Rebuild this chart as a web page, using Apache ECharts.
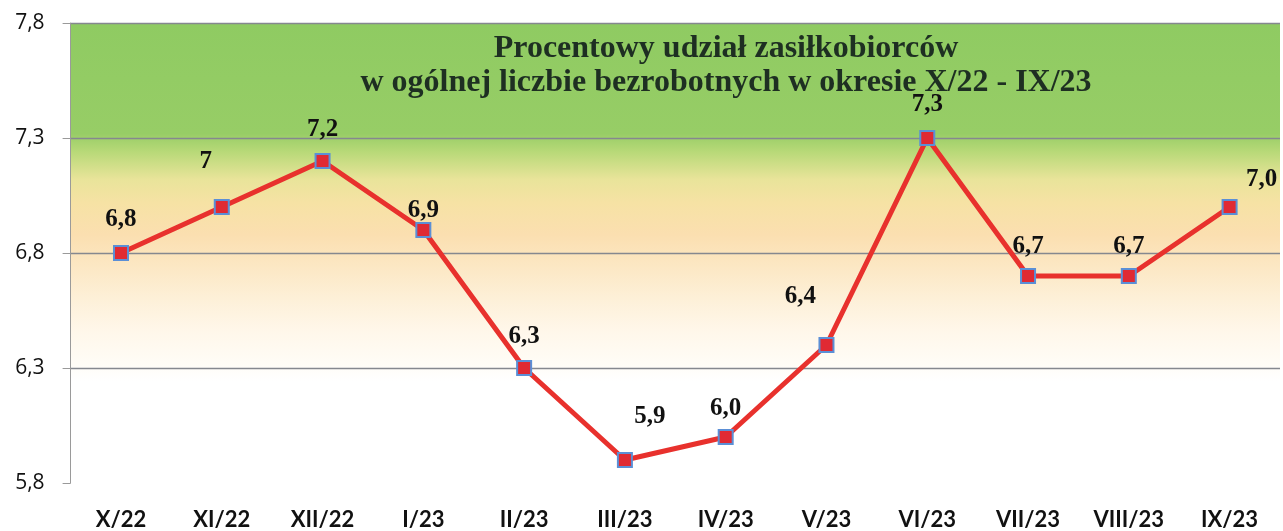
<!DOCTYPE html>
<html>
<head>
<meta charset="utf-8">
<script src="https://cdn.jsdelivr.net/npm/echarts@6/dist/echarts.min.js"></script>
<style>
html,body{margin:0;padding:0;background:#fff;}
#chart{width:1283px;height:531px;}
</style>
</head>
<body>
<div id="chart"></div>
<script>
const categories = ['X/22','XI/22','XII/22','I/23','II/23','III/23','IV/23','V/23','VI/23','VII/23','VIII/23','IX/23'];
const values = [6.8, 7.0, 7.2, 6.9, 6.3, 5.9, 6.0, 6.4, 7.3, 6.7, 6.7, 7.0];
const valueLabels = ['6,8','7','7,2','6,9','6,3','5,9','6,0','6,4','7,3','6,7','6,7','7,0'];
const yTicks = [5.8, 6.3, 6.8, 7.3, 7.8];
const titleLines = ['Procentowy udział zasiłkobiorców', 'w ogólnej liczbie bezrobotnych w okresie X/22 - IX/23'];

// label nudges (pixels) to mimic placement in the original
const labelNudge = [[0,-3],[-16,-15],[0,-1],[0,11],[0,-1],[25,-13],[0,2],[-26,-18],[0,-3],[0,1],[0,1],[32,3]];

const chart = echarts.init(document.getElementById('chart'));
const option = {
  animation: false,
  title: {
    text: titleLines.join('\n'),
    left: 721,
    top: 27,
    textAlign: 'center',
    textStyle: {
      fontFamily: 'Liberation Serif',
      fontWeight: 'bold',
      fontSize: 32,
      lineHeight: 34,
      color: '#1e2f22'
    }
  },
  grid: {
    left: 70.6, right: 3, top: 23, bottom: 48,
    outerBoundsMode: 'none',
    containLabel: false,
    show: true,
    borderWidth: 0,
    backgroundColor: {
      type: 'linear', x: 0, y: 0, x2: 0, y2: 1,
      colorStops: [
        {offset: 0, color: '#8fcb62'},
        {offset: 0.24, color: '#97cd66'},
        {offset: 0.28, color: '#b8d978'},
        {offset: 0.34, color: '#e9e49a'},
        {offset: 0.39, color: '#f6e2a4'},
        {offset: 0.46, color: '#fbdfb0'},
        {offset: 0.6, color: '#fdf0d8'},
        {offset: 0.67, color: '#fff7ea'},
        {offset: 0.75, color: '#fffdf8'},
        {offset: 0.78, color: '#ffffff'},
        {offset: 1, color: '#ffffff'}
      ]
    }
  },
  xAxis: {
    type: 'category',
    data: categories,
    boundaryGap: true,
    axisLine: {show: false},
    axisTick: {show: false},
    axisLabel: {
      margin: 26,
      fontFamily: 'Lato',
      fontWeight: 'bold',
      fontSize: 22,
      color: '#111'
    }
  },
  yAxis: {
    type: 'value',
    min: yTicks[0],
    max: yTicks[yTicks.length - 1],
    interval: 0.5,
    axisLine: {show: true, lineStyle: {color: '#9a9a9a', width: 1}},
    axisTick: {show: true, length: 8, lineStyle: {color: '#9a9a9a'}},
    axisLabel: {
      margin: 26,
      fontFamily: 'Open Sans',
      fontSize: 21,
      color: '#111',
      formatter: v => v.toFixed(1).replace('.', ',')
    },
    splitLine: {
      show: true,
      lineStyle: {color: '#85888f', width: 1.3},
      showMinLine: false
    }
  },
  series: [{
    type: 'line',
    data: values.map((v, i) => ({
      value: v,
      label: {offset: labelNudge[i]}
    })),
    lineStyle: {color: '#e8312d', width: 5},
    symbol: 'rect',
    symbolSize: 14,
    itemStyle: {color: '#e02a33', borderColor: '#5b8fd6', borderWidth: 2},
    label: {
      show: true,
      position: 'top',
      distance: 10,
      fontFamily: 'Liberation Serif',
      fontWeight: 'bold',
      fontSize: 25,
      color: '#111',
      formatter: p => valueLabels[p.dataIndex]
    },
    z: 3
  }]
};
chart.setOption(option);
</script>
</body>
</html>
